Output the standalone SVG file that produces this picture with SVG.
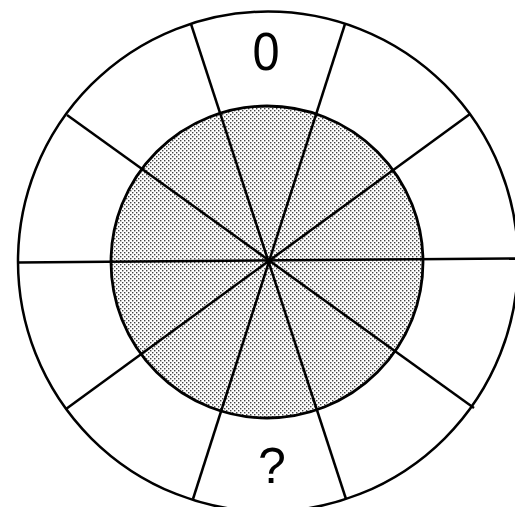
<svg xmlns="http://www.w3.org/2000/svg" width="515" height="507" viewBox="0 0 515 507">
<style>
.ln{stroke:#000;stroke-width:2.5;fill:none}
.lbl{font-family:"Liberation Sans",Arial,sans-serif;fill:#000;text-anchor:middle}
</style>
<defs>
<pattern id="dots" width="4" height="4" patternUnits="userSpaceOnUse">
<rect width="4" height="4" fill="#fff"/>
<rect x="0" y="0" width="1.4" height="1.4" fill="#444"/>
<rect x="2" y="2" width="1.4" height="1.4" fill="#444"/>
</pattern>
</defs>
<rect width="515" height="507" fill="#fff"/>
<g id="outer"><circle class="ln" cx="268" cy="261.5" r="250"/></g>
<g id="inner"><circle cx="267" cy="262" r="156" fill="url(#dots)" stroke="#000" stroke-width="2.8"/></g>
<g id="spokes" class="ln">
<line x1="18" y1="262.5" x2="518" y2="258.5"/>
<line x1="191" y1="24" x2="346" y2="499"/>
<line x1="345" y1="24" x2="193" y2="499"/>
<line x1="67" y1="115" x2="474" y2="408"/>
<line x1="470" y1="114" x2="66" y2="409"/>
</g>
<g id="center"><circle cx="268.5" cy="261.5" r="3" fill="#000"/></g>
<g id="label-top"><text class="lbl" x="266" y="70" font-size="53" transform="translate(266 0) scale(0.92 1) translate(-266 0)">0</text></g>
<g id="label-bottom"><text class="lbl" x="272" y="483" font-size="50">?</text></g>
</svg>
